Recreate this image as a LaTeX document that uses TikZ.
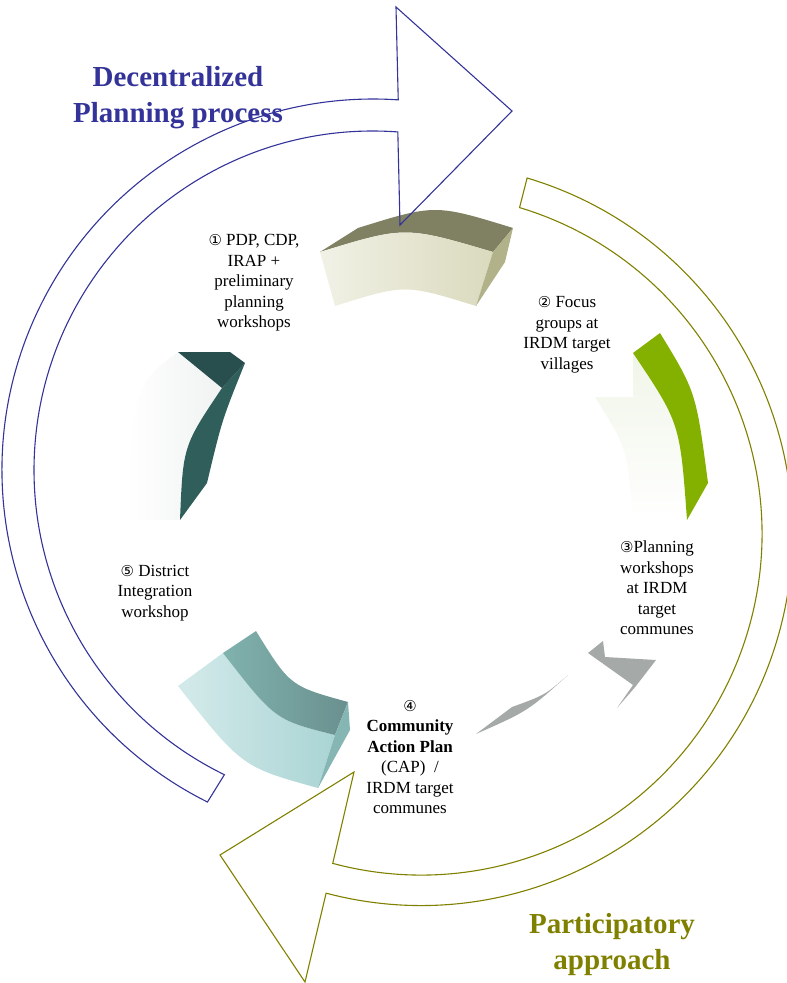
\documentclass[tikz,border=0pt]{standalone}
\usepackage{fontspec}
\setmainfont{Liberation Serif}
\newfontfamily\circfont{DejaVu Sans}
\usepackage{tikz}
\usetikzlibrary{calc}

\definecolor{dpblue}{RGB}{51,51,153}
\definecolor{paolive}{RGB}{128,128,0}
\definecolor{creamtop}{RGB}{128,128,98}
\definecolor{creamA}{RGB}{241,241,230}
\definecolor{creamB}{RGB}{218,218,190}
\definecolor{creamside}{RGB}{178,178,138}
\definecolor{darkteal}{RGB}{40,78,77}
\definecolor{darktealside}{RGB}{47,94,91}
\definecolor{paleface}{RGB}{240,243,242}
\definecolor{leafgreen}{RGB}{132,176,0}
\definecolor{palegreen}{RGB}{240,245,232}
\definecolor{tealtopA}{RGB}{128,178,174}
\definecolor{tealtopB}{RGB}{106,144,142}
\definecolor{tealA}{RGB}{212,234,234}
\definecolor{tealB}{RGB}{170,212,212}
\definecolor{tealside}{RGB}{134,182,179}
\definecolor{stonegray}{RGB}{165,170,168}

\newcommand{\cnum}[1]{{\circfont\fontsize{15}{20.5}\selectfont #1}}

\begin{document}
\begin{tikzpicture}[x=1pt,y=1pt]

        % Define styles
        \tikzstyle{stage} = [align=center, inner sep=0pt, font=\fontsize{17}{20.5}\selectfont]
        \tikzstyle{heading} = [align=center, inner sep=0pt, font=\bfseries\fontsize{29}{36}\selectfont]
        \tikzstyle{bigarrow} = [line width=1.1pt, line join=miter]

        \useasboundingbox (0,0) rectangle (787,-983);
        \clip (0,0) rectangle (787,-983);

        % Centres of the two big arrows
        \coordinate (cblue) at (373,-470);
        \coordinate (colive) at (421,-534);

        % Block 1 (top)
        \fill[creamtop] (320,-252) -- (358,-228) .. controls (435,-204) .. (513,-228)
            -- (493,-252) .. controls (405,-226) .. (320,-252) -- cycle;
        \shade[left color=creamA, right color=creamB] (320,-252) .. controls (405,-226) .. (493,-252)
            -- (476,-306) .. controls (405,-284) .. (335,-306) -- cycle;
        \fill[creamside] (493,-252) -- (513,-228) -- (505,-262) -- (476,-306) -- cycle;

        % Block 2 (right, green)
        \shade[top color=palegreen, bottom color=white] (633,-353) -- (633,-397) -- (595,-397) .. controls (628,-450) .. (632,-520)
            -- (687,-520) .. controls (680,-423) .. (633,-353) -- cycle;
        \fill[leafgreen] (633,-353) -- (660,-333) .. controls (696,-392) .. (708,-483)
            -- (687,-520) .. controls (680,-423) .. (633,-353) -- cycle;

        % Block 3 (bottom right, grey)
        \fill[stonegray] (476,-734) -- (512,-707) .. controls (545,-695) .. (568,-675)
            .. controls (528,-711) .. (476,-734) -- cycle;
        \fill[stonegray] (603,-641) -- (588,-653) -- (633,-685) -- (617,-708)
            -- (636,-686) -- (656,-660) -- (605,-657) -- cycle;

        % Block 4 (bottom left, teal)
        \shade[left color=tealA, right color=tealB] (178,-686) -- (223,-653) .. controls (275,-720) .. (335,-735)
            -- (318,-788) .. controls (242,-767) .. (178,-686) -- cycle;
        \shade[left color=tealtopA, right color=tealtopB] (223,-653) -- (256,-631) .. controls (290,-686) .. (348,-702)
            -- (335,-735) .. controls (275,-720) .. (223,-653) -- cycle;
        \fill[tealside] (335,-735) -- (348,-702) -- (350,-730) -- (318,-788) -- cycle;

        % Block 5 (left, dark teal)
        \shade[right color=paleface, left color=white] (178,-352) -- (222,-388) .. controls (183,-446) .. (180,-520)
            -- (124,-520) .. controls (135,-384) .. (178,-352) -- cycle;
        \fill[darktealside] (222,-388) -- (245,-363) .. controls (222,-420) .. (207,-483)
            -- (180,-520) .. controls (183,-446) .. (222,-388) -- cycle;
        \fill[darkteal] (178,-352) -- (230,-352) -- (245,-363) -- (222,-388) -- cycle;

        % Decentralized planning arrow
        \draw[bigarrow, dpblue] ($(cblue)+(244:339)$) -- ($(cblue)+(243.5:371)$)
            arc[start angle=243.5, end angle=86.1, radius=371]
            -- (396,-7) -- (512,-111) -- (400,-225)
            -- ($(cblue)+(85.8:339)$)
            arc[start angle=85.8, end angle=244, radius=339] -- cycle;

        % Participatory arrow
        \draw[bigarrow, paolive] ($(colive)+(73.2:341)$) -- ($(colive)+(73.4:371.5)$)
            arc[start angle=73.4, end angle=-104.8, radius=371.5]
            -- (305,-982) -- (220,-855) -- (354,-772)
            -- ($(colive)+(-105:341)$)
            arc[start angle=-105, end angle=73.2, radius=341] -- cycle;

        % Stage labels
        \node[stage] (s1) at (254,-283) {\cnum{①} PDP, CDP,\\IRAP +\\preliminary\\planning\\workshops};
        \node[stage] (s2) at (567,-335) {\cnum{②} Focus\\groups at\\IRDM target\\villages};
        \node[stage] (s3) at (657,-588) {\cnum{③}Planning\\workshops\\at IRDM\\target\\communes};
        \node[stage] (s4) at (410,-757) {\cnum{④}\\\textbf{Community}\\\textbf{Action Plan}\\(CAP) \ /\\IRDM target\\communes};
        \node[stage] (s5) at (155,-593) {\cnum{⑤} District\\Integration\\workshop};

        % Headings
        \node[heading, text=dpblue] (dp) at (178,-98) {Decentralized\\Planning process};
        \node[heading, text=paolive] (pa) at (612,-945) {Participatory\\approach};

    \end{tikzpicture}
\end{document}
